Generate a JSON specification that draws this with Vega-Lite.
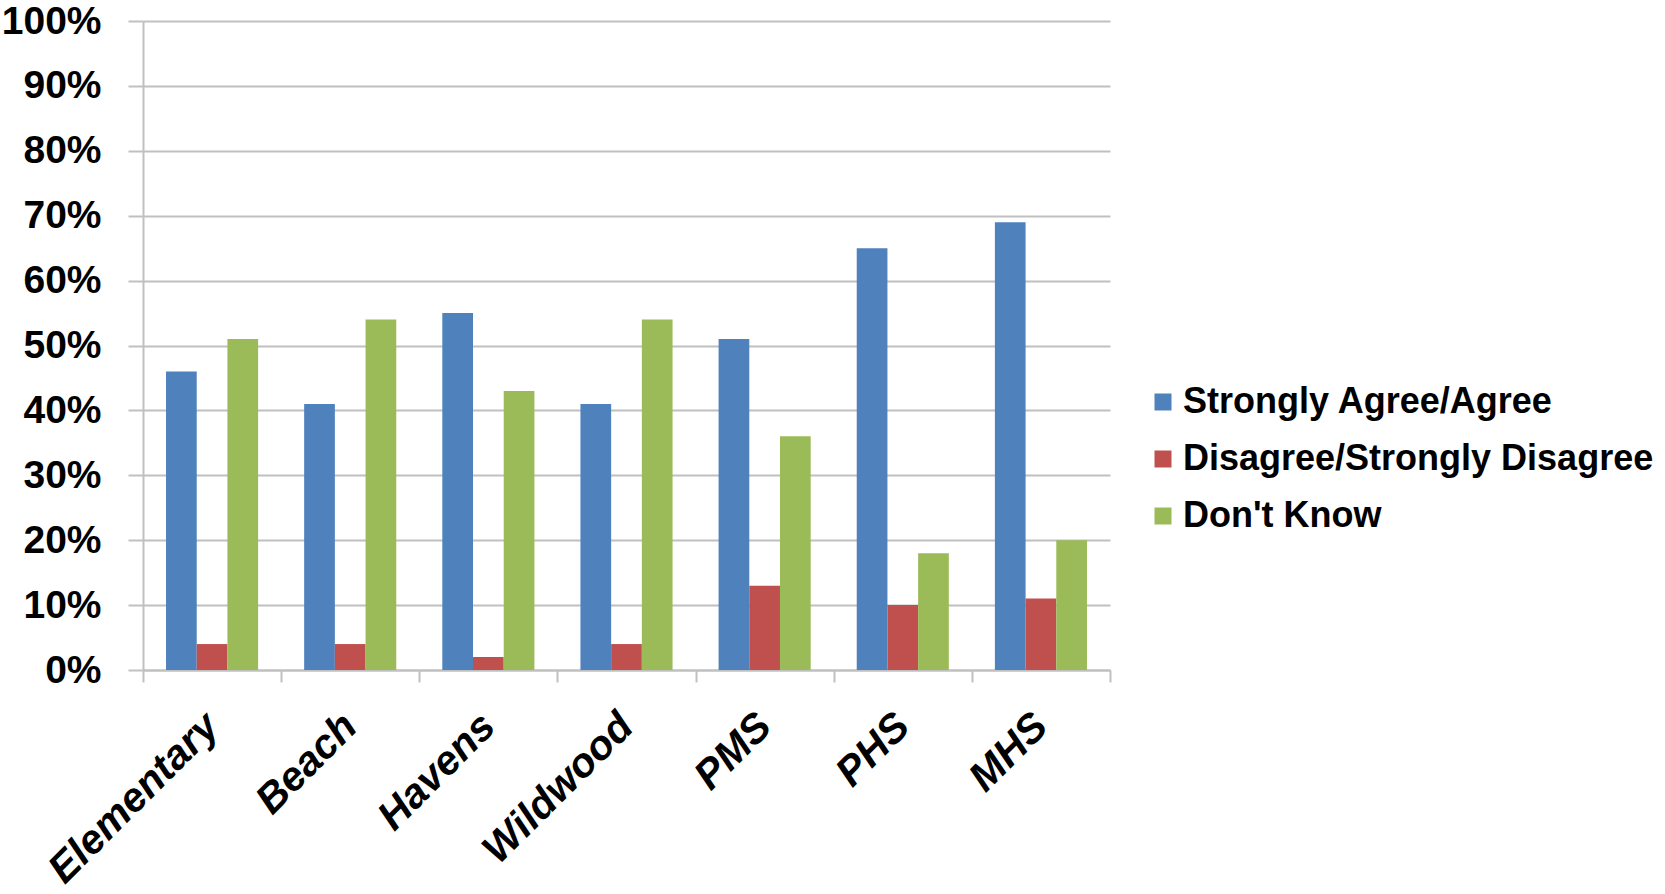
{
  "$schema": "https://vega.github.io/schema/vega-lite/v6.json",
  "autosize": {"type": "none"},
  "padding": {"left": 143, "top": 21, "right": 555, "bottom": 224},
  "width": 967,
  "height": 649,
  "background": "white",
  "data": {
    "values": [
      {"school": "Elementary", "response": "Strongly Agree/Agree", "pct": 46},
      {"school": "Elementary", "response": "Disagree/Strongly Disagree", "pct": 4},
      {"school": "Elementary", "response": "Don't Know", "pct": 51},
      {"school": "Beach", "response": "Strongly Agree/Agree", "pct": 41},
      {"school": "Beach", "response": "Disagree/Strongly Disagree", "pct": 4},
      {"school": "Beach", "response": "Don't Know", "pct": 54},
      {"school": "Havens", "response": "Strongly Agree/Agree", "pct": 55},
      {"school": "Havens", "response": "Disagree/Strongly Disagree", "pct": 2},
      {"school": "Havens", "response": "Don't Know", "pct": 43},
      {"school": "Wildwood", "response": "Strongly Agree/Agree", "pct": 41},
      {"school": "Wildwood", "response": "Disagree/Strongly Disagree", "pct": 4},
      {"school": "Wildwood", "response": "Don't Know", "pct": 54},
      {"school": "PMS", "response": "Strongly Agree/Agree", "pct": 51},
      {"school": "PMS", "response": "Disagree/Strongly Disagree", "pct": 13},
      {"school": "PMS", "response": "Don't Know", "pct": 36},
      {"school": "PHS", "response": "Strongly Agree/Agree", "pct": 65},
      {"school": "PHS", "response": "Disagree/Strongly Disagree", "pct": 10},
      {"school": "PHS", "response": "Don't Know", "pct": 18},
      {"school": "MHS", "response": "Strongly Agree/Agree", "pct": 69},
      {"school": "MHS", "response": "Disagree/Strongly Disagree", "pct": 11},
      {"school": "MHS", "response": "Don't Know", "pct": 20}
    ]
  },
  "mark": {"type": "bar"},
  "encoding": {
    "x": {
      "field": "school",
      "type": "nominal",
      "sort": ["Elementary", "Beach", "Havens", "Wildwood", "PMS", "PHS", "MHS"],
      "scale": {"paddingInner": 0, "paddingOuter": 0},
      "axis": {
        "title": null,
        "tickBand": "extent",
        "labelAngle": -45,
        "labelAlign": "right",
        "labelBaseline": "middle",
        "labelPadding": 38,
        "labelLimit": 1000,
        "labelFont": "Liberation Sans",
        "labelFontSize": 41,
        "labelFontWeight": "bold",
        "labelFontStyle": "italic",
        "labelColor": "black",
        "tickSize": 12,
        "tickColor": "#c0c0c0",
        "tickWidth": 2,
        "domainColor": "#c0c0c0",
        "domainWidth": 2,
        "grid": false
      }
    },
    "xOffset": {
      "field": "response",
      "type": "nominal",
      "sort": ["Strongly Agree/Agree", "Disagree/Strongly Disagree", "Don't Know"],
      "scale": {"paddingInner": 0, "paddingOuter": 0.75}
    },
    "y": {
      "field": "pct",
      "type": "quantitative",
      "scale": {"domain": [0, 100], "nice": false},
      "axis": {
        "title": null,
        "values": [0, 10, 20, 30, 40, 50, 60, 70, 80, 90, 100],
        "labelExpr": "datum.value + '%'",
        "labelFont": "Liberation Sans",
        "labelFontSize": 39,
        "labelFontWeight": "bold",
        "labelColor": "black",
        "labelPadding": 27,
        "tickSize": 15,
        "tickColor": "#c0c0c0",
        "tickWidth": 2,
        "domainColor": "#c0c0c0",
        "domainWidth": 2,
        "grid": true,
        "gridColor": "#c0c0c0",
        "gridWidth": 2
      }
    },
    "color": {
      "field": "response",
      "type": "nominal",
      "sort": ["Strongly Agree/Agree", "Disagree/Strongly Disagree", "Don't Know"],
      "scale": {
        "domain": ["Strongly Agree/Agree", "Disagree/Strongly Disagree", "Don't Know"],
        "range": ["#4F81BD", "#C0504D", "#9BBB59"]
      },
      "legend": {
        "title": null,
        "orient": "none",
        "legendX": 1002,
        "legendY": 363,
        "padding": 0,
        "symbolType": "square",
        "symbolSize": 289,
        "symbolStrokeWidth": 0,
        "labelFont": "Liberation Sans",
        "labelFontSize": 36,
        "labelFontWeight": "bold",
        "labelColor": "black",
        "labelOffset": 2,
        "labelLimit": 1000,
        "rowPadding": 21
      }
    }
  },
  "config": {
    "view": {"stroke": null}
  }
}
